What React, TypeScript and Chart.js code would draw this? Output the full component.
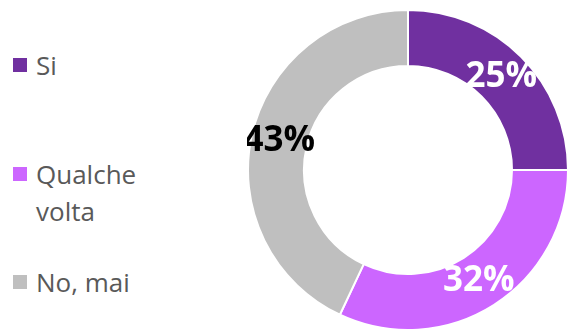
import React, { useEffect, useRef } from "react";
import { Chart, registerables } from "chart.js";

Chart.register(...registerables);

const categories = ["Si", "Qualche volta", "No, mai"];
const legendLines = [["Si"], ["Qualche", "volta"], ["No, mai"]];
const values = [25, 32, 43];
const colors = ["#7030A0", "#CC66FF", "#BFBFBF"];
const labelColors = ["#FFFFFF", "#FFFFFF", "#000000"];

const FONT = "'Open Sans', 'Noto Sans', sans-serif";

const labelPlugin = {
  id: "sliceLabels",
  afterDatasetsDraw(chart: any) {
    const ctx = chart.ctx;
    const meta = chart.getDatasetMeta(0);
    ctx.save();
    ctx.font = `bold 35px ${FONT}`;
    ctx.textAlign = "center";
    ctx.textBaseline = "middle";
    meta.data.forEach((arc: any, i: number) => {
      const p = arc.tooltipPosition();
      ctx.fillStyle = labelColors[i];
      ctx.fillText(values[i] + "%", p.x, p.y);
    });
    ctx.restore();
  },
};

export default function App() {
  const ref = useRef<HTMLCanvasElement>(null);
  useEffect(() => {
    const chart = new Chart(ref.current!, {
      type: "doughnut",
      data: {
        labels: categories,
        datasets: [
          {
            data: values,
            backgroundColor: colors,
            borderColor: "#FFFFFF",
            borderWidth: 2,
          },
        ],
      },
      options: {
        animation: false,
        responsive: false,
        cutout: "65%",
        layout: { padding: 0 },
        plugins: {
          legend: { display: false },
          tooltip: { enabled: false },
        },
      },
      plugins: [labelPlugin],
    });
    return () => chart.destroy();
  }, []);

  const legendTops = [49, 158, 266];
  return (
    <div
      style={{
        position: "fixed",
        left: 0,
        top: 0,
        width: 568,
        height: 331,
        overflow: "hidden",
        background: "#fff",
      }}
    >
      {legendLines.map((lines, i) => (
        <div
          key={categories[i]}
          style={{
            position: "absolute",
            left: 13,
            top: legendTops[i],
            display: "flex",
            alignItems: "flex-start",
          }}
        >
          <div
            style={{
              width: 14,
              height: 14,
              background: colors[i],
              marginTop: 9,
              marginRight: 9,
            }}
          />
          <div
            style={{
              fontFamily: FONT,
              fontSize: 26,
              lineHeight: "37px",
              color: "#595959",
              marginTop: -2,
            }}
          >
            {lines.map((l) => (
              <div key={l}>{l}</div>
            ))}
          </div>
        </div>
      ))}
      <canvas
        ref={ref}
        width={322}
        height={342}
        style={{ position: "absolute", left: 247, top: -1 }}
      />
    </div>
  );
}
